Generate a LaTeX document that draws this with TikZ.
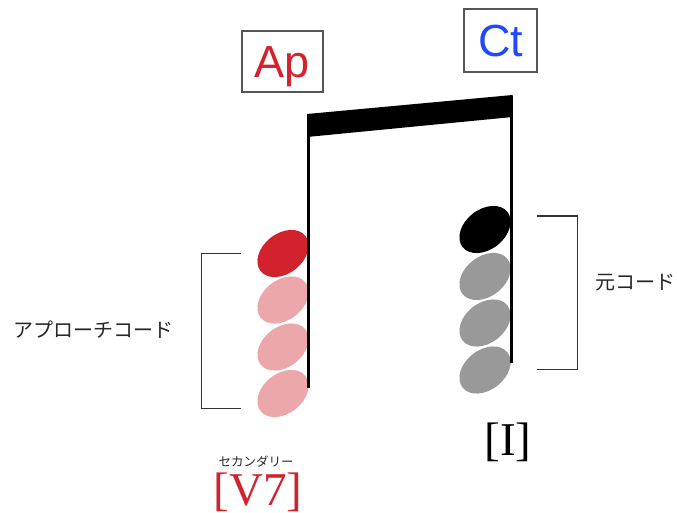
\documentclass[tikz,border=0pt]{standalone}
\usepackage{fontspec}
\setmainfont{Liberation Serif}
\newfontfamily\sansf{Liberation Sans}
\newfontfamily\jpf{Noto Sans CJK JP}
\usetikzlibrary{shapes.geometric}
\definecolor{apred}{HTML}{D2222E}
\definecolor{lightred}{HTML}{EBA7AA}
\definecolor{ctblue}{HTML}{1F48FF}
\definecolor{notegray}{HTML}{999999}
\definecolor{boxgray}{HTML}{555555}
\begin{document}
\begin{tikzpicture}[x=1pt,y=-1pt,
  notehead/.style={ellipse,minimum width=57pt,minimum height=40pt,inner sep=0pt,rotate=38},
  labelbox/.style={draw=boxgray,line width=1.5pt,inner sep=0pt,font=\sansf\fontsize{45}{45}\selectfont,text height=32pt,text depth=0pt},
  stemline/.style={line width=3pt},
  bracketline/.style={draw=black!80,line width=1pt},
  jp/.style={font=\jpf\fontsize{20}{20}\selectfont,text=black!85},
  chordname/.style={font=\fontsize{47}{47}\selectfont,inner sep=0pt}
]
\useasboundingbox (0,0) rectangle (677,513);

% label boxes
\node[labelbox,text=apred,minimum width=81pt,minimum height=61pt] (ap) at (282.5,61.5) {Ap};
\node[labelbox,text=ctblue,minimum width=73pt,minimum height=63pt] (ct) at (500.5,40.5) {Ct};

% left chord note heads
\node[notehead,fill=apred] (l1) at (283,253.5) {};
\node[notehead,fill=lightred] (l2) at (283,300) {};
\node[notehead,fill=lightred] (l3) at (283,347) {};
\node[notehead,fill=lightred] (l4) at (283,393.5) {};

% right chord note heads
\node[notehead,fill=black] (r1) at (485,229.5) {};
\node[notehead,fill=notegray] (r2) at (485,276.5) {};
\node[notehead,fill=notegray] (r3) at (485,323) {};
\node[notehead,fill=notegray] (r4) at (485,370) {};

% stems and beam
\coordinate (lstemtop) at (308.5,118);
\coordinate (lstembot) at (308.5,388);
\coordinate (rstemtop) at (511,96);
\coordinate (rstembot) at (511,363);
\draw[stemline] (lstemtop) -- (lstembot);
\draw[stemline] (rstemtop) -- (rstembot);
\coordinate (bl1) at (307,114);
\coordinate (br1) at (512.5,95);
\coordinate (br2) at (512.5,117);
\coordinate (bl2) at (307,137);
\fill (bl1) -- (br1) -- (br2) -- (bl2) -- cycle;

% brackets
\coordinate (lbt) at (241,253);
\coordinate (lbtc) at (201,253);
\coordinate (lbbc) at (201,408);
\coordinate (lbb) at (241,408);
\draw[bracketline] (lbt) -- (lbtc) -- (lbbc) -- (lbb);
\coordinate (rbt) at (537,216);
\coordinate (rbtc) at (577,216);
\coordinate (rbbc) at (577,369);
\coordinate (rbb) at (537,369);
\draw[bracketline] (rbt) -- (rbtc) -- (rbbc) -- (rbb);

% texts
\node[jp] (apc) at (93,330) {アプローチコード};
\node[jp] (moto) at (635,283) {元コード};
\node[font=\jpf\fontsize{12.5}{12.5}\selectfont,text=black!85,inner sep=0pt] (sec) at (256,462) {セカンダリー};
\node[chordname,text=apred] (v7) at (258,492) {[V7]};
\node[chordname] (one) at (508,442) {[I]};
\end{tikzpicture}
\end{document}
